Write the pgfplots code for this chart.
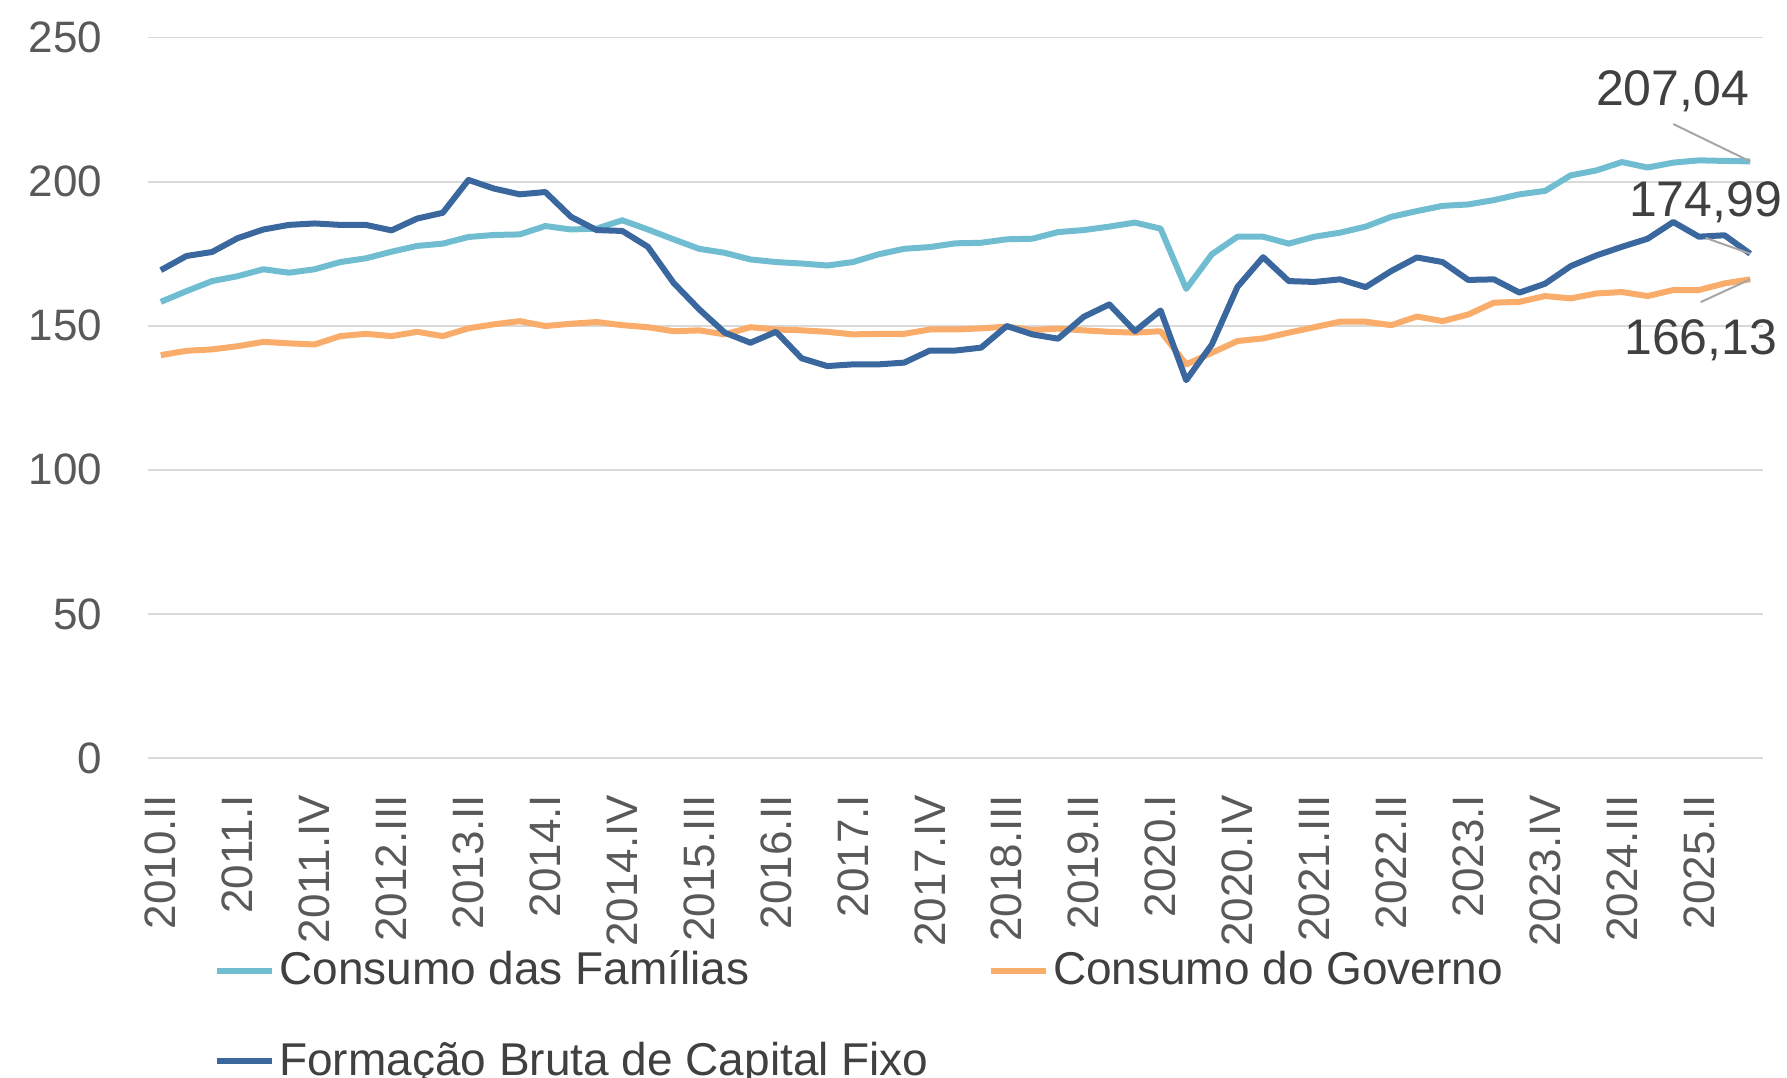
\documentclass[border=0pt]{standalone}
\usepackage{fontspec}
\setmainfont{Liberation Sans}
\usepackage{pgfplots}
\pgfplotsset{compat=1.18}
\definecolor{cfam}{RGB}{112,189,210}
\definecolor{cgov}{RGB}{250,172,106}
\definecolor{cfbcf}{RGB}{58,104,158}
\definecolor{ticktxt}{RGB}{89,89,89}
\definecolor{labtxt}{RGB}{64,64,64}
\definecolor{gridc}{RGB}{217,217,217}
\definecolor{leader}{RGB}{166,166,166}
\begin{document}
\begin{tikzpicture}
\clip (-37pt,-80pt) rectangle (409.75pt,189.5pt);
\begin{axis}[
  at={(0pt,0pt)}, anchor=south west,
  scale only axis, width=403.75pt, height=180.1pt,
  xmin=-0.5, xmax=62.5, ymin=0, ymax=250,
  clip=false,
  axis line style={draw=none},
  tick style={draw=none},
  ymajorgrids, major grid style={color=gridc, line width=0.45pt},
  ytick={0,50,100,150,200,250},
  xtick={0,3,...,60},
  xticklabels={2010.II,2011.I,2011.IV,2012.III,2013.II,2014.I,2014.IV,2015.III,2016.II,2017.I,2017.IV,2018.III,2019.II,2020.I,2020.IV,2021.III,2022.II,2023.I,2023.IV,2024.III,2025.II},
  /pgf/number format/assume math mode=true,
  ticklabel style={font=\fontsize{11}{13}\selectfont, text=ticktxt},
  xticklabel style={rotate=90, anchor=east, inner sep=0pt},
  xticklabel shift=9pt,
  yticklabel style={anchor=east, inner sep=0pt},
  yticklabel shift=11.3pt,
  legend columns=2,
  legend image code/.code={\draw[#1] (0pt,0pt) -- (13.7pt,0pt);},
  legend style={draw=none, fill=none, at={(0.0332,-0.2502)}, anchor=north west,
    font=\fontsize{11.5}{13.5}\selectfont, text=labtxt,
    nodes={inner sep=1pt},
    row sep=10.7pt,
    /tikz/every even column/.append style={column sep=13.9pt}},
  legend cell align=left,
]
\addplot[color=cfam, line width=1.5pt, line join=round] coordinates {
(0,158.3)(1,162.0)(2,165.5)(3,167.2)(4,169.6)(5,168.4)(6,169.6)(7,172.1)(8,173.4)(9,175.7)
(10,177.7)(11,178.5)(12,180.8)(13,181.5)(14,181.7)(15,184.6)(16,183.4)(17,183.7)(18,186.6)(19,183.4)
(20,180.0)(21,176.7)(22,175.3)(23,173.0)(24,172.1)(25,171.6)(26,170.9)(27,172.1)(28,174.8)(29,176.7)
(30,177.3)(31,178.6)(32,178.8)(33,180.0)(34,180.2)(35,182.5)(36,183.2)(37,184.4)(38,185.8)(39,183.7)
(40,162.8)(41,174.8)(42,180.9)(43,180.9)(44,178.5)(45,180.9)(46,182.3)(47,184.4)(48,187.8)(49,189.8)
(50,191.6)(51,192.1)(52,193.6)(53,195.6)(54,196.8)(55,202.2)(56,203.9)(57,206.8)(58,204.9)(59,206.6)
(60,207.4)(61,207.2)(62,207.04)};
\addlegendentry{Consumo das Famílias}
\addplot[color=cgov, line width=1.5pt, line join=round] coordinates {
(0,139.8)(1,141.3)(2,141.8)(3,142.9)(4,144.4)(5,143.9)(6,143.5)(7,146.4)(8,147.2)(9,146.4)
(10,147.9)(11,146.4)(12,149.1)(13,150.5)(14,151.6)(15,149.9)(16,150.7)(17,151.3)(18,150.2)(19,149.5)
(20,148.1)(21,148.4)(22,147.0)(23,149.5)(24,148.7)(25,148.4)(26,147.9)(27,147.0)(28,147.2)(29,147.2)
(30,148.7)(31,148.7)(32,149.1)(33,149.7)(34,148.5)(35,149.0)(36,148.4)(37,147.9)(38,147.6)(39,148.1)
(40,136.6)(41,140.6)(42,144.7)(43,145.6)(44,147.6)(45,149.5)(46,151.4)(47,151.4)(48,150.2)(49,153.2)
(50,151.6)(51,153.9)(52,158.0)(53,158.3)(54,160.3)(55,159.5)(56,161.2)(57,161.7)(58,160.3)(59,162.4)
(60,162.4)(61,164.7)(62,166.13)};
\addlegendentry{Consumo do Governo}
\addplot[color=cfbcf, line width=1.5pt, line join=round] coordinates {
(0,169.3)(1,174.2)(2,175.6)(3,180.4)(4,183.4)(5,185.0)(6,185.5)(7,185.0)(8,185.0)(9,183.1)
(10,187.2)(11,189.2)(12,200.6)(13,197.6)(14,195.6)(15,196.4)(16,187.8)(17,183.2)(18,182.9)(19,177.4)
(20,164.9)(21,155.7)(22,147.6)(23,144.1)(24,147.9)(25,138.7)(26,136.0)(27,136.6)(28,136.6)(29,137.2)
(30,141.4)(31,141.4)(32,142.4)(33,149.9)(34,147.0)(35,145.5)(36,153.1)(37,157.4)(38,148.1)(39,155.3)
(40,131.1)(41,143.5)(42,163.5)(43,173.8)(44,165.5)(45,165.2)(46,166.1)(47,163.4)(48,169.0)(49,173.7)
(50,172.1)(51,165.9)(52,166.1)(53,161.5)(54,164.6)(55,170.7)(56,174.4)(57,177.4)(58,180.2)(59,186.0)
(60,180.9)(61,181.4)(62,174.99)};
\addlegendentry{Formação Bruta de Capital Fixo}
\draw[color=leader, line width=0.5pt] (axis cs:59,220) -- (axis cs:62,207.04);
\draw[color=leader, line width=0.5pt] (axis cs:60.26,180.5) -- (axis cs:62,174.99);
\draw[color=leader, line width=0.5pt] (axis cs:60.07,158.2) -- (axis cs:62,166.13);
\node[font=\fontsize{12.5}{15}\selectfont, text=labtxt, inner sep=0pt] at (axis cs:58.97,231.5) {207,04};
\node[font=\fontsize{12.5}{15}\selectfont, text=labtxt, inner sep=0pt] at (axis cs:60.26,192.9) {174,99};
\node[font=\fontsize{12.5}{15}\selectfont, text=labtxt, inner sep=0pt] at (axis cs:60.07,145.1) {166,13};
\end{axis}
\end{tikzpicture}
\end{document}
